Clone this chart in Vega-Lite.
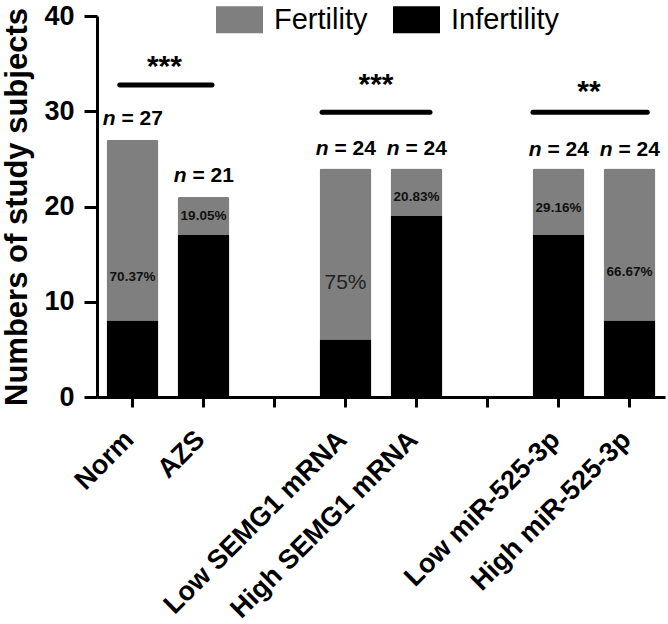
{
  "$schema": "https://vega.github.io/schema/vega-lite/v6.json",
  "width": 568,
  "height": 381,
  "autosize": {"type": "none"},
  "padding": {"left": 97, "top": 16, "right": 3, "bottom": 227},
  "background": "white",
  "config": {
    "font": "Liberation Sans",
    "view": {"stroke": null}
  },
  "datasets": {
    "bars": [
      {"group": "Norm", "status": "Fertility", "count": 19},
      {"group": "Norm", "status": "Infertility", "count": 8},
      {"group": "AZS", "status": "Fertility", "count": 4},
      {"group": "AZS", "status": "Infertility", "count": 17},
      {"group": "Low SEMG1 mRNA", "status": "Fertility", "count": 18},
      {"group": "Low SEMG1 mRNA", "status": "Infertility", "count": 6},
      {"group": "High SEMG1 mRNA", "status": "Fertility", "count": 5},
      {"group": "High SEMG1 mRNA", "status": "Infertility", "count": 19},
      {"group": "Low miR-525-3p", "status": "Fertility", "count": 7},
      {"group": "Low miR-525-3p", "status": "Infertility", "count": 17},
      {"group": "High miR-525-3p", "status": "Fertility", "count": 16},
      {"group": "High miR-525-3p", "status": "Infertility", "count": 8}
    ],
    "nlabels": [
      {"group": "Norm", "y": 29.2, "n": "n", "rest": "=  27"},
      {"group": "AZS", "y": 23.2, "n": "n", "rest": "= 21"},
      {"group": "Low SEMG1 mRNA", "y": 26.0, "n": "n", "rest": "= 24"},
      {"group": "High SEMG1 mRNA", "y": 26.0, "n": "n", "rest": "= 24"},
      {"group": "Low miR-525-3p", "y": 25.9, "n": "n", "rest": "= 24"},
      {"group": "High miR-525-3p", "y": 25.9, "n": "n", "rest": "= 24"}
    ],
    "pct": [
      {"group": "Norm", "y": 12.6, "text": "70.37%"},
      {"group": "AZS", "y": 19.0, "text": "19.05%"},
      {"group": "High SEMG1 mRNA", "y": 21.0, "text": "20.83%"},
      {"group": "Low miR-525-3p", "y": 19.8, "text": "29.16%"},
      {"group": "High miR-525-3p", "y": 13.1, "text": "66.67%"}
    ],
    "pctbig": [
      {"group": "Low SEMG1 mRNA", "y": 12.0, "text": "75%"}
    ],
    "sig": [
      {"x1": 0.32, "x2": 1.62, "y": 32.75, "xm": 0.95, "ys": 34.6, "stars": "***"},
      {"x1": 3.17, "x2": 4.69, "y": 29.9, "xm": 3.93, "ys": 32.8, "stars": "***"},
      {"x1": 6.14, "x2": 7.75, "y": 29.9, "xm": 6.93, "ys": 32.0, "stars": "**"}
    ]
  },
  "resolve": {"scale": {"x": "independent"}},
  "layer": [
    {
      "layer": [
        {
          "data": {"name": "bars"},
          "mark": {"type": "bar", "cornerRadius": 2},
          "encoding": {
            "x": {
              "field": "group", "type": "nominal",
              "scale": {
                "domain": ["Norm", "AZS", "gap1", "Low SEMG1 mRNA", "High SEMG1 mRNA", "gap2", "Low miR-525-3p", "High miR-525-3p"],
                "paddingInner": 0.27, "paddingOuter": 0.135
              },
              "axis": {
                "title": null,
                "labelExpr": "indexof(datum.value, 'gap') == 0 ? '' : datum.value",
                "labelAngle": -45,
                "labelFont": "Liberation Sans",
                "labelFontSize": 27,
                "labelFontWeight": "bold",
                "labelColor": "black",
                "labelLimit": 0,
                "labelPadding": 19,
                "labelOffset": -12,
                "domainColor": "black",
                "domainWidth": 3,
                "tickColor": "black",
                "tickWidth": 3,
                "tickSize": 10
              }
            },
            "y": {
              "field": "count", "type": "quantitative",
              "scale": {"domain": [0, 40]},
              "axis": {
                "title": "Numbers of study subjects",
                "titleFontSize": 31,
                "titleFontWeight": "bold",
                "titleColor": "black",
                "titlePadding": 10,
                "values": [0, 10, 20, 30, 40],
                "grid": false,
                "labelFontSize": 27,
                "labelFontWeight": "bold",
                "labelColor": "black",
                "labelPadding": 10,
                "domainColor": "black",
                "domainWidth": 3,
                "tickColor": "black",
                "tickWidth": 3,
                "tickSize": 13
              }
            },
            "color": {
              "field": "status", "type": "nominal",
              "scale": {"domain": ["Fertility", "Infertility"], "range": ["#7f7f7f", "#000000"]},
              "legend": {
                "title": null,
                "orient": "none",
                "direction": "horizontal",
                "legendX": 119,
                "legendY": -20,
                "symbolType": "M-1,-0.57H1V0.57H-1Z",
                "symbolSize": 2209,
                "symbolStrokeWidth": 0,
                "symbolOpacity": 1,
                "labelFontSize": 29,
                "labelColor": "black",
                "labelOffset": 11,
                "labelLimit": 0,
                "columnPadding": 25
              }
            },
            "order": {"field": "status", "sort": "descending"}
          }
        },
        {
          "data": {"name": "nlabels"},
          "mark": {"type": "text", "fontSize": 21, "fontWeight": "bold", "fontStyle": "italic", "color": "black", "baseline": "middle", "align": "right", "dx": -17},
          "encoding": {
            "x": {"field": "group", "type": "nominal"},
            "y": {"field": "y", "type": "quantitative"},
            "text": {"field": "n"}
          }
        },
        {
          "data": {"name": "nlabels"},
          "mark": {"type": "text", "fontSize": 21, "fontWeight": "bold", "color": "black", "baseline": "middle", "align": "left", "dx": -11},
          "encoding": {
            "x": {"field": "group", "type": "nominal"},
            "y": {"field": "y", "type": "quantitative"},
            "text": {"field": "rest"}
          }
        },
        {
          "data": {"name": "pct"},
          "mark": {"type": "text", "fontSize": 13.5, "fontWeight": "bold", "color": "#111111", "baseline": "middle"},
          "encoding": {
            "x": {"field": "group", "type": "nominal"},
            "y": {"field": "y", "type": "quantitative"},
            "text": {"field": "text"}
          }
        },
        {
          "data": {"name": "pctbig"},
          "mark": {"type": "text", "fontSize": 21, "color": "#222222", "baseline": "middle"},
          "encoding": {
            "x": {"field": "group", "type": "nominal"},
            "y": {"field": "y", "type": "quantitative"},
            "text": {"field": "text"}
          }
        }
      ]
    },
    {
      "data": {"name": "sig"},
      "layer": [
        {
          "mark": {"type": "rule", "strokeWidth": 5, "strokeCap": "round", "color": "black"},
          "encoding": {
            "x": {"field": "x1", "type": "quantitative", "scale": {"domain": [0, 8], "nice": false, "zero": false}, "axis": null},
            "x2": {"field": "x2"},
            "y": {"field": "y", "type": "quantitative"}
          }
        },
        {
          "mark": {"type": "text", "fontSize": 30, "fontWeight": "bold", "color": "black", "baseline": "middle"},
          "encoding": {
            "x": {"field": "xm", "type": "quantitative"},
            "y": {"field": "ys", "type": "quantitative"},
            "text": {"field": "stars"}
          }
        }
      ]
    }
  ]
}
